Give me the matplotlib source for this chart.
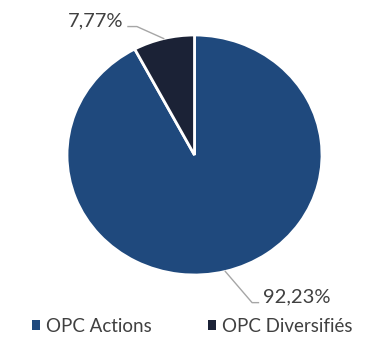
import numpy as np
import matplotlib.pyplot as plt

# données
categories = ['OPC Actions', 'OPC Diversifiés']
valeurs = [92.23, 7.77]
etiquettes = ['92,23%', '7,77%']
couleurs = ['#1F497D', '#1B2236']

plt.rcParams['font.family'] = ['Lato', 'DejaVu Sans']

W, H = 376, 338
fig = plt.figure(figsize=(W / 100, H / 100), dpi=100)
# zone du camembert en pixels (légèrement ovale comme l'original)
x0, x1, y0, y1 = 67, 322, 35, 275
ax = fig.add_axes([x0 / W, 1 - y1 / H, (x1 - x0) / W, (y1 - y0) / H])

wedges, _ = ax.pie(valeurs, colors=couleurs, startangle=90, counterclock=False,
                   wedgeprops=dict(edgecolor='white', linewidth=2))
ax.set_aspect('auto')
ax.set_xlim(-1, 1)
ax.set_ylim(-1, 1)
ax.axis('off')

gris = '#404040'
ligne = '#A6A6A6'

# étiquettes avec traits de rappel
# (décalage du coude, longueur du palier, côté du texte)
reglages = {
    0: dict(coude=(0.21, -0.26), palier=0.05, texte_y=0.05, ha='left'),
    1: dict(coude=(-0.21, 0.10), palier=-0.07, texte_y=0.045, ha='right'),
}
for i, w in enumerate(wedges):
    mid = np.deg2rad((w.theta1 + w.theta2) / 2)
    ax_, ay_ = np.cos(mid), np.sin(mid)
    r = reglages[i]
    ex, ey = ax_ + r['coude'][0], ay_ + r['coude'][1]
    fx = ex + r['palier']
    ax.plot([ax_, ex, fx], [ay_, ey, ey], color=ligne, lw=1, clip_on=False)
    dx = 0.035 if r['ha'] == 'left' else -0.04
    ax.text(fx + dx, ey + r['texte_y'], etiquettes[i], ha=r['ha'], va='center',
            fontsize=14.5, color=gris, clip_on=False)

leg = fig.legend(wedges, categories, ncol=2, loc='center',
                 bbox_to_anchor=(0.511, 1 - 326 / H), frameon=False,
                 fontsize=13.5, handlelength=0.43, handleheight=0.43,
                 handletextpad=0.3, columnspacing=3.0)
for t in leg.get_texts():
    t.set_color(gris)
for h in leg.legend_handles:
    h.set_edgecolor('none')

fig.savefig('out.png', dpi=100)
